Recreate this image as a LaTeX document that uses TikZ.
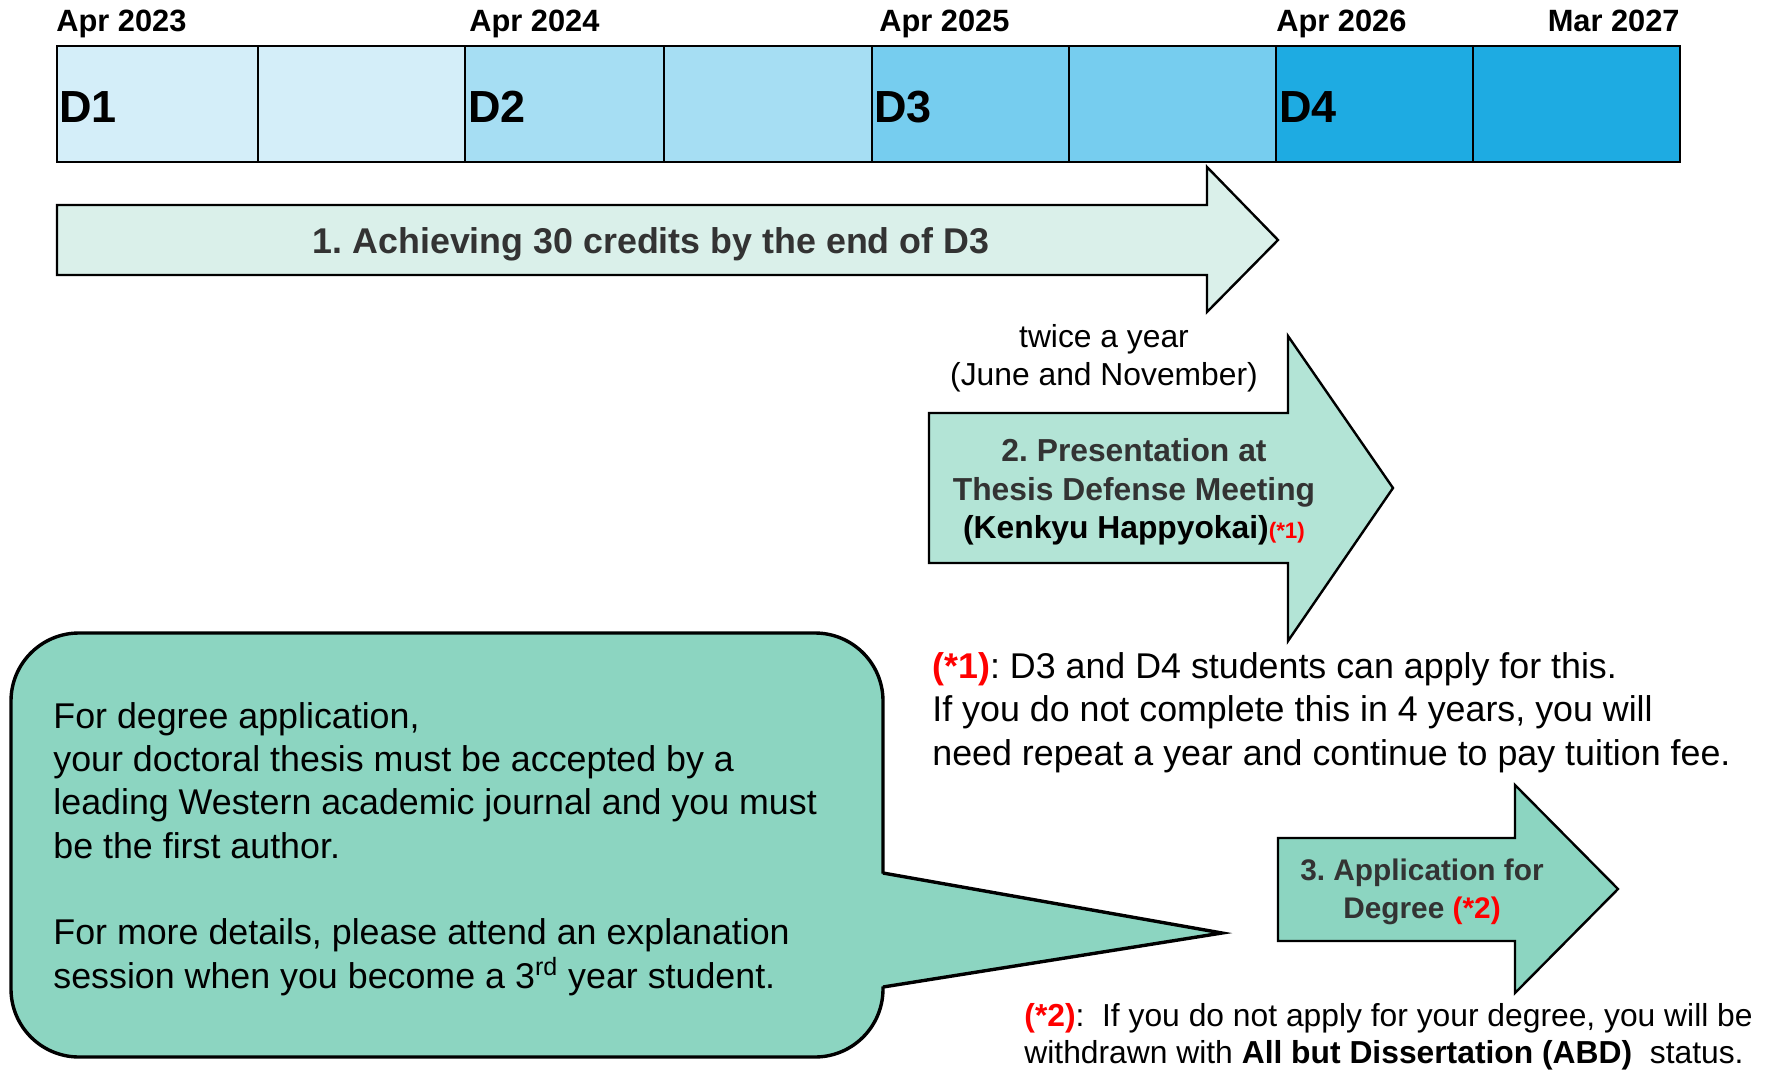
\documentclass[tikz,border=0pt]{standalone}
\usepackage{fontspec}
\setmainfont{Liberation Sans}
\usepackage{tikz}

\definecolor{donefill}{RGB}{212,238,249}
\definecolor{dtwofill}{RGB}{166,222,243}
\definecolor{dthreefill}{RGB}{118,205,239}
\definecolor{dfourfill}{RGB}{30,171,226}
\definecolor{creditfill}{RGB}{218,240,234}
\definecolor{presfill}{RGB}{179,228,214}
\definecolor{degfill}{RGB}{140,213,193}
\definecolor{darktext}{RGB}{51,51,51}
\definecolor{notered}{RGB}{255,0,0}

\newcommand\yearfont{\fontsize{15.4}{18}\selectfont\bfseries}
\newcommand\cellfont{\fontsize{22.5}{26}\selectfont\bfseries}
\newcommand\stepfont{\fontsize{17.9}{21}\selectfont\bfseries}
\newcommand\presfont{\fontsize{15.9}{19.25}\selectfont\bfseries}
\newcommand\degfont{\fontsize{14.9}{18.75}\selectfont\bfseries}
\newcommand\notefont{\fontsize{17.9}{21.65}\selectfont}
\newcommand\smallnotefont{\fontsize{15.9}{19.25}\selectfont}
\newcommand\abdnotefont{\fontsize{15.9}{18.75}\selectfont}

\begin{document}
\frenchspacing
\begin{tikzpicture}[x=0.5pt,y=0.5pt,yscale=-1,xscale=1]
  \useasboundingbox (0,0) rectangle (1766,1070);

  %Shape: Timeline cells
  \draw [fill=donefill, line width=1pt] (57,46) rectangle (258,162);
  \draw [fill=donefill, line width=1pt] (258,46) rectangle (465,162);
  \draw [fill=dtwofill, line width=1pt] (465,46) rectangle (664,162);
  \draw [fill=dtwofill, line width=1pt] (664,46) rectangle (872,162);
  \draw [fill=dthreefill, line width=1pt] (872,46) rectangle (1069,162);
  \draw [fill=dthreefill, line width=1pt] (1069,46) rectangle (1276,162);
  \draw [fill=dfourfill, line width=1pt] (1276,46) rectangle (1473,162);
  \draw [fill=dfourfill, line width=1pt] (1473,46) rectangle (1680,162);
  %Shape: Timeline frame
  \draw [line width=1.4pt] (57,46) rectangle (1680,162);

  % Text Node
  \draw (56,32) node [anchor=base west][inner sep=0pt] (aprtwentythree) {\yearfont Apr 2023};
  % Text Node
  \draw (469,32) node [anchor=base west][inner sep=0pt] (aprtwentyfour) {\yearfont Apr 2024};
  % Text Node
  \draw (879,32) node [anchor=base west][inner sep=0pt] (aprtwentyfive) {\yearfont Apr 2025};
  % Text Node
  \draw (1276,32) node [anchor=base west][inner sep=0pt] (aprtwentysix) {\yearfont Apr 2026};
  % Text Node
  \draw (1680,32) node [anchor=base east][inner sep=0pt] (martwentyseven) {\yearfont Mar 2027};

  % Text Node
  \draw (59,123) node [anchor=base west][inner sep=0pt] (done) {\cellfont D1};
  % Text Node
  \draw (468,123) node [anchor=base west][inner sep=0pt] (dtwo) {\cellfont D2};
  % Text Node
  \draw (874,123) node [anchor=base west][inner sep=0pt] (dthree) {\cellfont D3};
  % Text Node
  \draw (1279,123) node [anchor=base west][inner sep=0pt] (dfour) {\cellfont D4};

  %Shape: Right Arrow (credits)
  \draw [fill=creditfill, line width=1.2pt, line join=miter] (57,205) -- (1207,205) -- (1207,167) -- (1278,240) -- (1207,312) -- (1207,275) -- (57,275) -- cycle;
  % Text Node
  \draw (651,253) node [anchor=base][inner sep=0pt][font=\stepfont, text=darktext] (credits) {1. Achieving 30 credits by the end of D3};

  % Text Node (base = last line)
  \draw (1104,385.5) node [anchor=base][inner sep=0pt][align=center, font=\smallnotefont] (twice) {twice a year\\(June and November)};

  %Shape: Right Arrow (presentation)
  \draw [fill=presfill, line width=1.2pt, line join=miter] (929,413) -- (1288,413) -- (1288,336) -- (1393,488) -- (1288,641) -- (1288,563) -- (929,563) -- cycle;
  % Text Node
  \draw (1134,538.5) node [anchor=base][inner sep=0pt][align=center, font=\presfont, text=darktext] (presentation) {2. Presentation at\\Thesis Defense Meeting\\\textcolor{black}{(Kenkyu Happyokai)}\textcolor{notered}{\fontsize{11.2}{13}\selectfont (*1)}};

  % Text Node
  \draw (932,765) node [anchor=base west][inner sep=0pt][align=left, font=\notefont] (noteone) {\textcolor{notered}{\bfseries (*1)}: D3 and D4 students can apply for this.\\If you do not complete this in 4 years, you will\\need repeat a year and continue to pay tuition fee.};

  %Shape: Right Arrow (degree)
  \draw [fill=degfill, line width=1.2pt, line join=miter] (1278,838) -- (1515,838) -- (1515,785) -- (1618,889) -- (1515,993) -- (1515,941) -- (1278,941) -- cycle;
  % Text Node
  \draw (1422,918) node [anchor=base][inner sep=0pt][align=center, font=\degfont, text=darktext] (degree) {3. Application for\\Degree \textcolor{notered}{(*2)}};

  % Text Node
  \draw (1024,1063.5) node [anchor=base west][inner sep=0pt][align=left, font=\abdnotefont] (notetwo) {\textcolor{notered}{\bfseries (*2)}:\ \ If you do not apply for your degree, you will be\\withdrawn with \textbf{All but Dissertation (ABD)}\ \ status.};

  %Shape: Callout
  \draw [fill=degfill, line width=1.7pt, rounded corners=34pt] (11,633) rectangle (883,1057);
  \fill [degfill] (878,873) -- (1222,933) -- (878,987) -- cycle;
  \draw [line width=1.7pt, line join=miter] (883,873) -- (1222,933) -- (883,987);
  % Text Node
  \draw (53,988) node [anchor=base west][inner sep=0pt][align=left, font=\notefont] (bubble) {For degree application,\\your doctoral thesis must be accepted by a\\leading Western academic journal and you must\\be the first author.\\[21.65pt]For more details, please attend an explanation\\session when you become a 3\textsuperscript{rd} year student.};

\end{tikzpicture}
\end{document}
